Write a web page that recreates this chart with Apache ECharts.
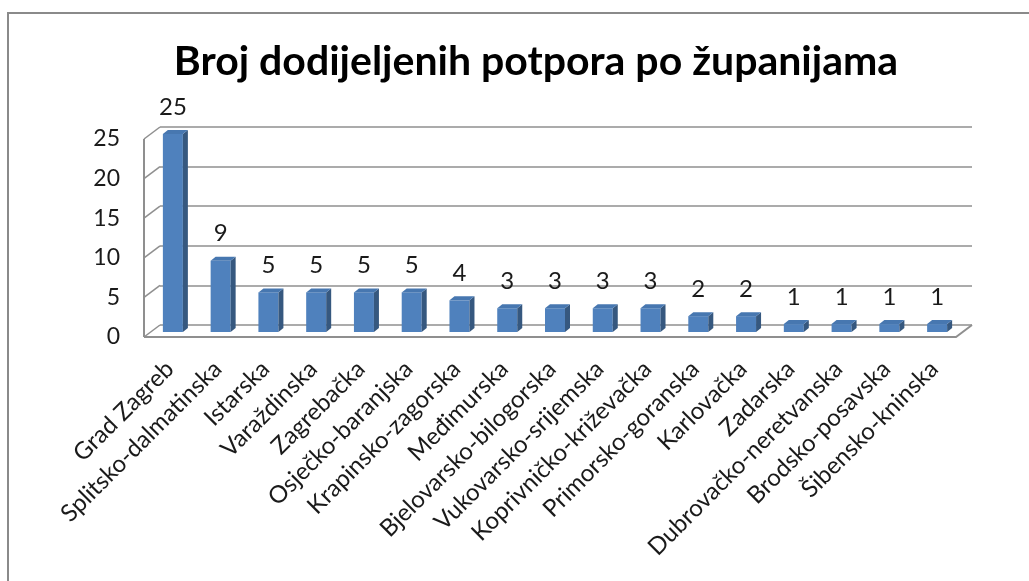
<!DOCTYPE html>
<html>
<head>
<meta charset="utf-8">
<script src="https://cdn.jsdelivr.net/npm/echarts@6/dist/echarts.min.js"></script>
<style>
  html, body { margin: 0; padding: 0; background: #fff; }
  #chart { width: 1029px; height: 581px; }
</style>
</head>
<body>
<div id="chart"></div>
<script>
var counties = ['Grad Zagreb', 'Splitsko-dalmatinska', 'Istarska', 'Varaždinska', 'Zagrebačka',
    'Osječko-baranjska', 'Krapinsko-zagorska', 'Međimurska', 'Bjelovarsko-bilogorska',
    'Vukovarsko-srijemska', 'Koprivničko-križevačka', 'Primorsko-goranska', 'Karlovačka',
    'Zadarska', 'Dubrovačko-neretvanska', 'Brodsko-posavska', 'Šibensko-kninska'];
var grants = [25, 9, 5, 5, 5, 5, 4, 3, 3, 3, 3, 2, 2, 1, 1, 1, 1];
var yTicks = [0, 5, 10, 15, 20, 25];

var chart = echarts.init(document.getElementById('chart'));
var font = 'Lato, "Open Sans", sans-serif';
var gridColor = '#8f8f8f';
// 3d depth of the walls and of the bars
var wallDx = -16, wallDy = 12;

var barData = grants.map(function (v, i) { return [i, v]; });
var tickData = yTicks.map(function (v) { return [0, v]; });

function renderBar(params, api) {
    var i = api.value(0), v = api.value(1);
    var p0 = api.coord([i, 0]);
    var p1 = api.coord([i, v]);
    var cx = p0[0] - 11;
    var yb = p0[1] + 7, yt = p1[1] + 7;
    var hw = 10, dx = 5, dy = -4;
    return {
        type: 'group',
        children: [{
            type: 'rect',
            shape: { x: cx - hw, y: yt, width: hw * 2, height: yb - yt },
            style: { fill: '#4f81bd' }
        }, {
            type: 'polygon',
            shape: { points: [[cx + hw, yt], [cx + hw + dx, yt + dy], [cx + hw + dx, yb + dy], [cx + hw, yb]] },
            style: { fill: '#36587f' }
        }, {
            type: 'polygon',
            shape: { points: [[cx - hw, yt], [cx + hw, yt], [cx + hw + dx, yt + dy], [cx - hw + dx, yt + dy]] },
            style: { fill: '#4777b0' }
        }, {
            type: 'text',
            style: {
                text: String(v), x: cx, y: yt - 27,
                align: 'center', verticalAlign: 'middle',
                font: '24px ' + font, fill: '#1a1a1a'
            }
        }]
    };
}

function renderWall(params, api) {
    var cs = params.coordSys;
    var v = api.value(1);
    var y = api.coord([0, v])[1];
    var y0 = api.coord([0, 0])[1];
    var yMax = api.coord([0, 25])[1];
    var line = { stroke: gridColor, lineWidth: 1.5 };
    var children = [{
        type: 'line',
        shape: { x1: cs.x, y1: y, x2: cs.x + wallDx, y2: y + wallDy },
        style: line
    }];
    if (params.dataIndex === 0) {
        children.push({
            type: 'line',
            shape: { x1: cs.x + wallDx, y1: yMax + wallDy, x2: cs.x + wallDx, y2: y0 + wallDy },
            style: { stroke: gridColor, lineWidth: 2 }
        }, {
            type: 'polyline',
            shape: { points: [[cs.x + wallDx, y0 + wallDy], [cs.x + cs.width + wallDx, y0 + wallDy], [cs.x + cs.width, y0]] },
            style: { stroke: gridColor, lineWidth: 2, fill: null }
        });
    }
    return { type: 'group', children: children };
}

var option = {
    backgroundColor: '#fff',
    animation: false,
    title: {
        text: 'Broj dodijeljenih potpora po županijama',
        left: 531, top: 36, textAlign: 'center',
        textStyle: { fontFamily: font, fontWeight: 'bold', fontSize: 41, color: '#000' }
    },
    graphic: [{
        type: 'rect',
        shape: { x: 8, y: 13, width: 1200, height: 800 },
        style: { fill: null, stroke: '#8a8a8a', lineWidth: 2 },
        silent: true
    }],
    grid: [
        // back wall
        { left: 160, right: 57, top: 127, height: 198 },
        // front edge, used for the axis labels
        { left: 146, right: 71, top: 139, height: 198 }
    ],
    xAxis: [{
        type: 'category', gridIndex: 0, data: counties,
        axisLine: { show: false }, axisTick: { show: false }, axisLabel: { show: false }
    }, {
        type: 'category', gridIndex: 1, data: counties,
        axisLine: { show: false }, axisTick: { show: false },
        axisLabel: {
            rotate: 45, margin: 28, interval: 0,
            fontFamily: font, fontSize: 24, color: '#1a1a1a'
        }
    }],
    yAxis: [{
        type: 'value', gridIndex: 0, min: 0, max: 25, interval: 5,
        axisLabel: { show: false },
        splitLine: { lineStyle: { color: gridColor, width: 1.5 } }
    }, {
        type: 'value', gridIndex: 1, min: 0, max: 25, interval: 5,
        splitLine: { show: false },
        axisLine: { show: false }, axisTick: { show: false },
        axisLabel: { margin: 26, fontFamily: font, fontSize: 23, color: '#1a1a1a' }
    }],
    series: [{
        type: 'custom', xAxisIndex: 0, yAxisIndex: 0,
        renderItem: renderWall, data: tickData, silent: true
    }, {
        type: 'custom', name: 'Broj potpora', xAxisIndex: 0, yAxisIndex: 0,
        renderItem: renderBar, data: barData
    }]
};
chart.setOption(option);
</script>
</body>
</html>
